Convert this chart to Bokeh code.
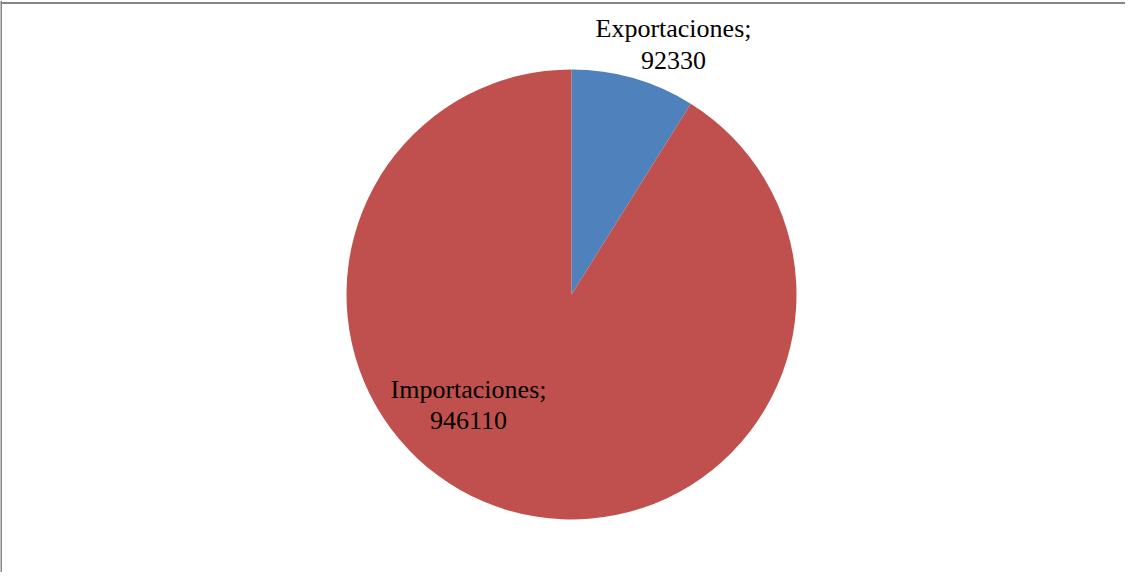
import math
from bokeh.plotting import figure
from bokeh.models import Range1d, Span, ColumnDataSource
from bokeh.core.properties import value
from bokeh.embed import file_html
from bokeh.resources import INLINE

# ---- data ----
categories = ["Exportaciones", "Importaciones"]
values = [92330, 946110]
colors = ["#4F81BD", "#C0504D"]

# ---- layout ----
W, H = 1125, 572
cx, cy, r = 571, H - 294, 225
label_pos = [(673, H - 44), (468, H - 404.5)]

total = sum(values)
starts, ends = [], []
a = math.pi / 2
for v in values:
    sweep = v / total * 2 * math.pi
    ends.append(a)
    starts.append(a - sweep)
    a -= sweep

src = ColumnDataSource(dict(start=starts, end=ends, color=colors,
                            x=[cx] * len(values), y=[cy] * len(values)))

p = figure(width=W, height=H, output_backend="svg", toolbar_location=None,
           x_range=Range1d(0, W), y_range=Range1d(0, H), min_border=0)
p.axis.visible = False
p.grid.visible = False
p.outline_line_color = None
p.background_fill_color = "white"
p.border_fill_color = "white"

p.wedge(x="x", y="y", radius=r, start_angle="start", end_angle="end",
        direction="anticlock", fill_color="color", line_color=None, source=src)

labels = [f"{c};\n{v}" for c, v in zip(categories, values)]
lsrc = ColumnDataSource(dict(x=[q[0] for q in label_pos], y=[q[1] for q in label_pos], t=labels))
p.text(x="x", y="y", text="t", source=lsrc, text_font=value("Liberation Serif"),
       text_font_size="26px", text_color="black", text_align="center",
       text_baseline="middle", text_line_height=1.1)

p.add_layout(Span(location=H - 2.5, dimension="width", line_color="#868686", line_width=2))
p.add_layout(Span(location=0.5, dimension="height", line_color="#868686", line_width=2))

open("out.html", "w").write(file_html(p, INLINE))
